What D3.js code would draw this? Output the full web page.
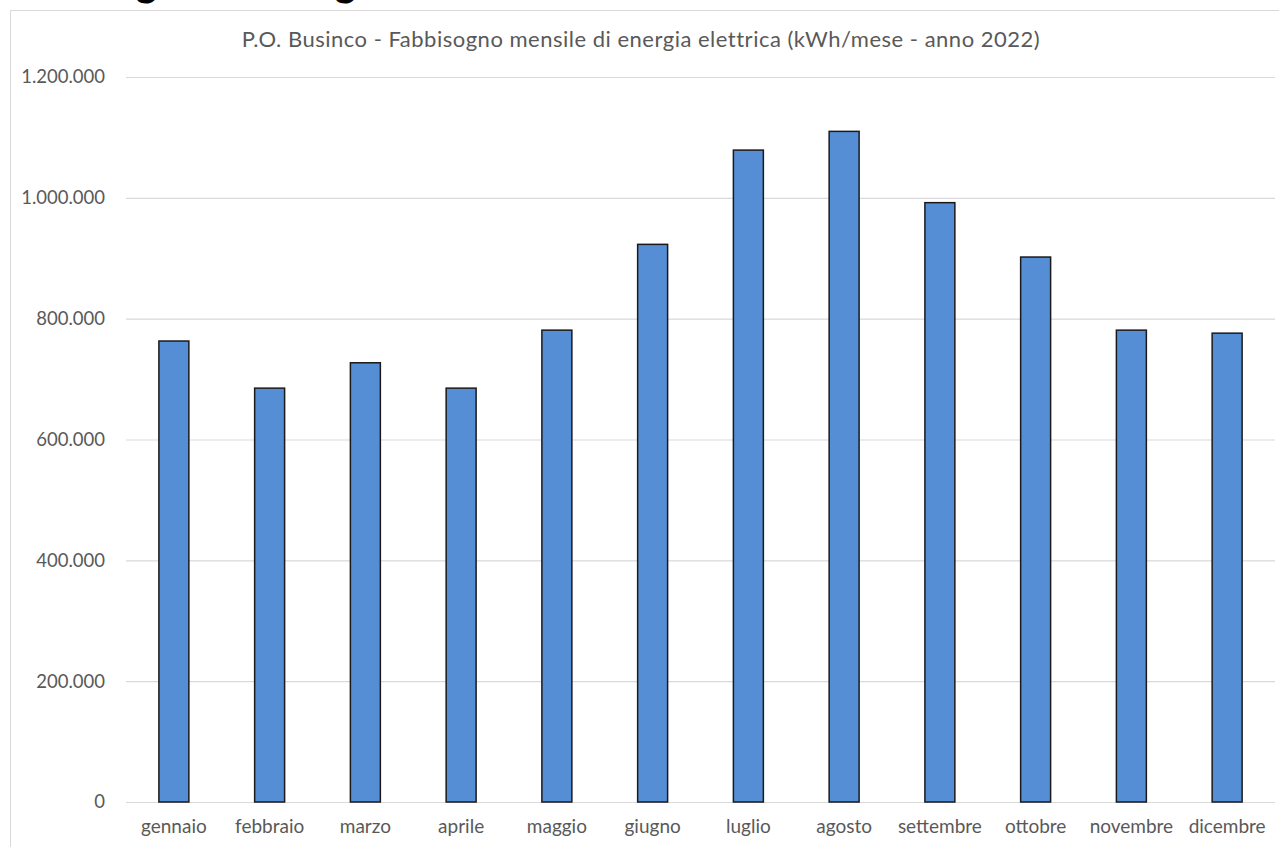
<!DOCTYPE html>
<html><head><meta charset="utf-8">
<script src="https://cdn.jsdelivr.net/npm/d3@7"></script>
<style>body{margin:0;background:#fff;}svg{display:block;}</style>
</head><body>
<svg id="c" width="1279" height="847"></svg>
<script>
const months = ["gennaio","febbraio","marzo","aprile","maggio","giugno","luglio","agosto","settembre","ottobre","novembre","dicembre"];
const values = [763000, 685000, 727000, 685000, 781000, 923000, 1079000, 1110000, 992000, 902000, 781000, 776000];
const yTicks = [0, 200000, 400000, 600000, 800000, 1000000, 1200000];
const title = "P.O. Businco - Fabbisogno mensile di energia elettrica (kWh/mese - anno 2022)";

const svg = d3.select("#c");
const font = "Lato, 'Open Sans', sans-serif";
const it = d3.formatLocale({decimal:",", thousands:".", grouping:[3], currency:["€",""]});
const fmt = it.format(",d");

// cropped heading above the chart frame
svg.append("text").attr("x", -26).attr("y", -4).attr("font-family", font).attr("font-weight", "bold")
  .attr("font-size", 40).attr("fill", "#000").text("Il fabbisogno di energia");

// chart frame
svg.append("rect").attr("x", 10.5).attr("y", 10.5).attr("width", 1300).attr("height", 900)
  .attr("fill", "#fff").attr("stroke", "#d9d9d9").attr("stroke-width", 1);

const m = {left:126, right:1275, top:77, bottom:802};
const x = d3.scaleBand().domain(months).range([m.left, m.right]).paddingInner(0.687).paddingOuter(0.3435);
const y = d3.scaleLinear().domain([0, 1200000]).range([m.bottom, m.top]);

const gy = svg.append("g").attr("transform", `translate(${m.left},0)`)
  .call(d3.axisLeft(y).tickValues(yTicks).tickFormat(fmt).tickSize(-(m.right - m.left)).tickPadding(21));
gy.select(".domain").remove();
gy.selectAll(".tick line").attr("stroke", "#d9d9d9").attr("stroke-width", 1.2);
gy.selectAll(".tick text").attr("font-family", font).attr("font-size", 18.5).attr("fill", "#595959");

svg.append("g").selectAll("rect").data(months).join("rect")
  .attr("x", d => x(d)).attr("width", x.bandwidth())
  .attr("y", (d, i) => y(values[i])).attr("height", (d, i) => y(0) - y(values[i]))
  .attr("fill", "#558ed5").attr("stroke", "#1a1a1a").attr("stroke-width", 1.5);

const gx = svg.append("g").attr("transform", `translate(0,${m.bottom})`)
  .call(d3.axisBottom(x).tickSize(0).tickPadding(18));
gx.select(".domain").remove();
gx.selectAll(".tick text").attr("font-family", font).attr("font-size", 19).attr("fill", "#595959");

svg.append("text").attr("x", 641).attr("y", 47).attr("text-anchor", "middle")
  .attr("font-family", font).attr("font-size", 22).attr("letter-spacing", 0.5).attr("fill", "#595959").text(title);
</script>
</body></html>
